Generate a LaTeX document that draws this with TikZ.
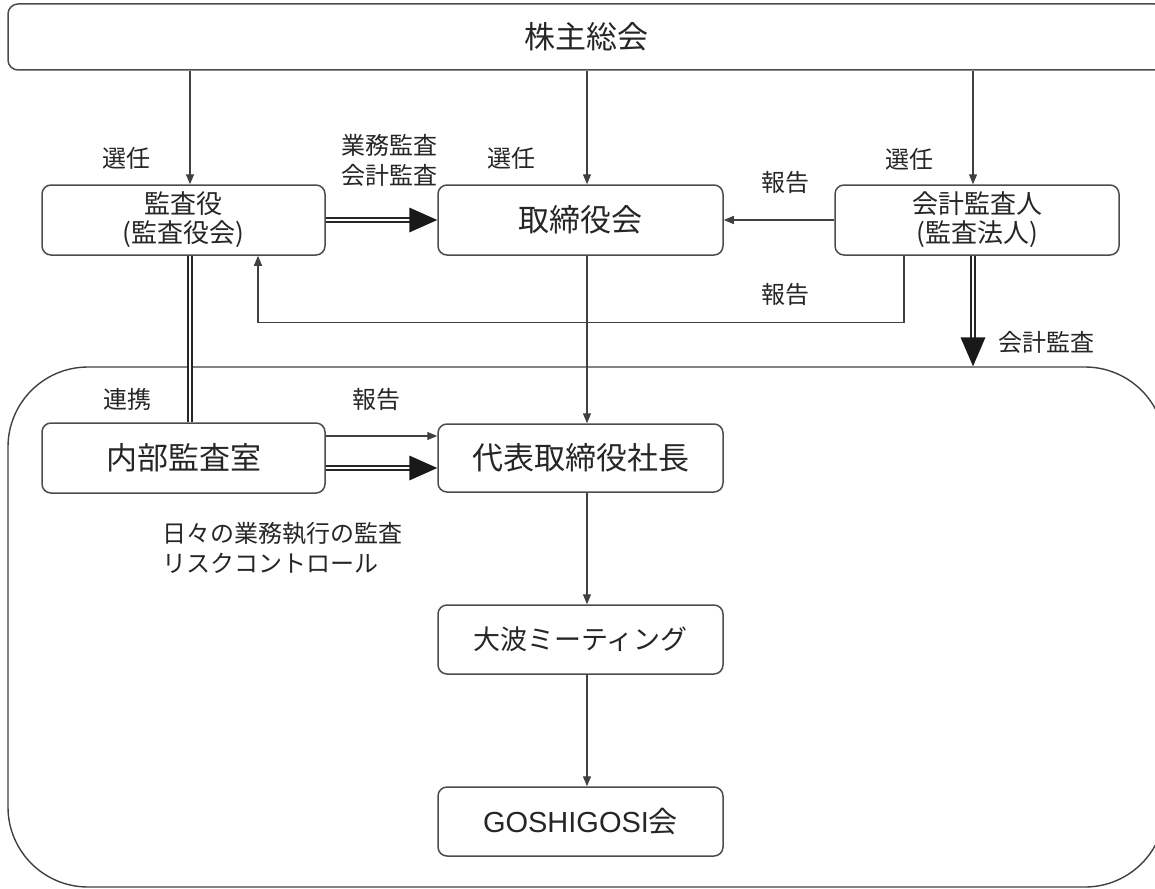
\documentclass[tikz,border=0pt]{standalone}
\usepackage{fontspec}
\setmainfont{Noto Sans CJK JP}
\newfontfamily\latinsans{Liberation Sans}
\usetikzlibrary{arrows.meta,calc}
\begin{document}
\begin{tikzpicture}[x=1pt,y=-1pt,
  line/.style={draw=black!75,line width=1.3pt},
  box/.style={draw=black!70,line width=1.5pt,rounded corners=9pt,inner sep=0pt,text=black!85,minimum height=70pt},
  onebox/.style={box,font=\fontsize{31}{33}\selectfont},
  twobox/.style={box,font=\fontsize{26}{29}\selectfont,align=center},
  lab/.style={font=\fontsize{24}{30}\selectfont,text=black!85,inner sep=0pt},
  arr/.style={line,-{Triangle[length=10pt,width=8pt]}},
  dbl/.style={double=white,draw=black!85,line width=1.6pt,double distance=2.6pt},
  head/.style={fill=black!90},
]
\useasboundingbox (0,0) rectangle (1155,888);
\clip (0,0) rectangle (1155,888);
% frames
\node[box, rounded corners=10pt, minimum width=1157pt, minimum height=66pt, font=\fontsize{31}{33}\selectfont] (gm) at (586.5,37) {株主総会};
\node[draw=black!75, line width=1.4pt, rounded corners=80pt, minimum width=1157pt, minimum height=520pt, inner sep=0pt] (org) at (586.5,627) {};
% boxes
\node[twobox, minimum width=283pt] (kansa) at (183.5,220) {監査役\\(監査役会)};
\node[onebox, minimum width=285pt] (tori) at (580.5,220) {取締役会};
\node[twobox, minimum width=284pt] (kaikei) at (977,220) {会計監査人\\(監査法人)};
\node[onebox, minimum width=283pt] (naibu) at (183.5,458) {内部監査室};
\node[onebox, minimum width=285pt, minimum height=68pt] (daihyo) at (580.5,458) {代表取締役社長};
\node[box, font=\fontsize{27}{29}\selectfont, minimum width=285pt, minimum height=69pt] (onami) at (580.5,639.5) {大波ミーティング};
\node[box, font=\fontsize{29}{31}\selectfont, minimum width=285pt, minimum height=69pt] (goshi) at (580.5,821.5) {{\latinsans GOSHIGOSI}会};
% x positions of connectors
\coordinate (xa) at (190,0);
\coordinate (xb) at (587,0);
\coordinate (xc) at (973,0);
\coordinate (xd) at (904,0);
\coordinate (xe) at (258,0);
% connectors
\draw[arr] (gm.south -| xa) -- (kansa.north -| xa);
\draw[arr] (gm.south -| xb) -- (tori.north -| xb);
\draw[arr] (gm.south -| xc) -- (kaikei.north -| xc);
\draw[dbl, shorten >=27pt] (kansa.east) -- (tori.west);
\fill[head] (tori.west) -- ++(-28,-12.5) -- ++(0,25) -- cycle;
\draw[arr] (kaikei.west) -- (tori.east);
\draw[arr] (kaikei.south -| xd) -- ++(0,67) -| (kansa.south -| xe);
\draw[dbl] (kansa.south -| xa) -- (naibu.north -| xa);
\draw[dbl, line width=2.2pt, double distance=2.4pt, shorten >=28pt] (kaikei.south -| xc) -- (org.north -| xc);
\fill[head] (org.north -| xc) -- ++(-12.5,-29) -- ++(25,0) -- cycle;
\draw[arr] (tori.south -| xb) -- (daihyo.north -| xb);
\draw[arr] ($(naibu.east)+(0,-22)$) -- ($(daihyo.west)+(0,-22)$);
\draw[dbl, shorten >=27pt] ($(naibu.east)+(0,10)$) -- ($(daihyo.west)+(0,10)$);
\fill[head] ($(daihyo.west)+(0,10)$) -- ++(-28,-12.5) -- ++(0,25) -- cycle;
\draw[arr] (daihyo.south -| xb) -- (onami.north -| xb);
\draw[arr] (onami.south -| xb) -- (goshi.north -| xb);
% labels
\node[lab] (l1) at (126,158) {選任};
\node[lab] (l2) at (511,158) {選任};
\node[lab] (l3) at (909,159) {選任};
\node[lab, align=center] (l4) at (389,160) {業務監査\\会計監査};
\node[lab] (l5) at (785,182) {報告};
\node[lab] (l6) at (785,294) {報告};
\node[lab] (l7) at (1046,342) {会計監査};
\node[lab] (l8) at (127,399) {連携};
\node[lab] (l9) at (376,399) {報告};
\node[lab, align=left, anchor=west] (l10) at (162,548) {日々の業務執行の監査\\リスクコントロール};
\end{tikzpicture}
\end{document}
